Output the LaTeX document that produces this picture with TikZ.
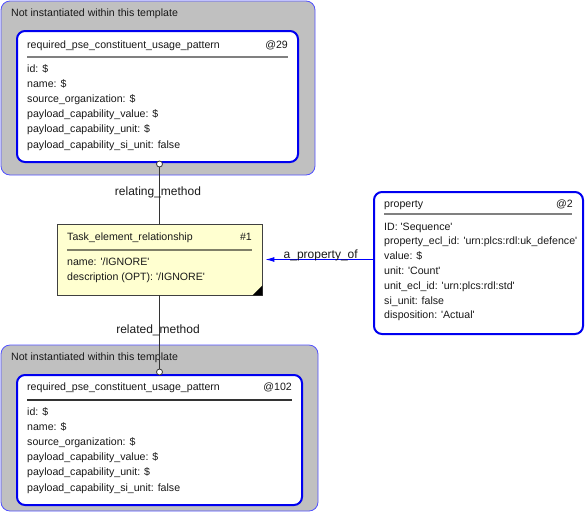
\documentclass[tikz,border=0pt]{standalone}
\usepackage{fontspec}
\newfontfamily\diafont{Liberation Sans}
\usetikzlibrary{arrows.meta}
\definecolor{grpgray}{RGB}{192,192,192}
\definecolor{grpblue}{RGB}{80,80,255}
\definecolor{boxblue}{RGB}{0,0,240}
\definecolor{noteyellow}{RGB}{255,255,208}
\definecolor{sepgray}{RGB}{128,128,128}
\definecolor{sepolive}{RGB}{128,128,104}

\begin{document}
\begin{tikzpicture}[x=1pt,y=-1pt,
	every node/.style={font=\diafont\fontsize{10.6}{12}\selectfont,inner sep=0pt,text=black!90},
	txt/.style={anchor=base west},
	num/.style={anchor=base east},
	role/.style={anchor=base,font=\diafont\fontsize{12}{14}\selectfont},
	grp/.style={draw=grpblue,fill=grpgray,rounded corners=9pt,line width=.8pt},
	inst/.style={draw=boxblue,fill=white,rounded corners=8pt,line width=2pt},
	note/.style={draw=black!75,fill=noteyellow,line width=.8pt},
	sep/.style={line width=1.5pt},
	conn/.style={draw=black!80,line width=.8pt},
	knob/.style={circle,draw=black!80,fill=white,minimum size=6pt,line width=.8pt}]
	\useasboundingbox (0,0) rectangle (585,512);

	% upper group
	\draw[grp] (1,1) rectangle (315,175);
	\node[txt] (grpA) at (11,16.5) {Not instantiated within this template};
	\node[inst,minimum width=281pt,minimum height=131pt] (pat29) at (157.5,96.5) {};
	\node[txt] (pat29t) at (27,48) {required\_pse\_constituent\_usage\_pattern};
	\node[num] (pat29n) at (288,48) {@29};
	\draw[sep,sepgray] (27,57) -- (288,57);
	\foreach \a [count=\i from 0] in {id: \$,name: \$,source\_organization: \$,
		payload\_capability\_value: \$,payload\_capability\_unit: \$,
		payload\_capability\_si\_unit: false}
		\node[txt] at (27,72.5+15.1*\i) {\a};

	% lower group
	\draw[grp] (1,345) rectangle (318,511);
	\node[txt] (grpB) at (11,360) {Not instantiated within this template};
	\node[inst,minimum width=285pt,minimum height=130pt] (pat102) at (159.5,440) {};
	\node[txt] (pat102t) at (27,390.5) {required\_pse\_constituent\_usage\_pattern};
	\node[num] (pat102n) at (292,390.5) {@102};
	\draw[sep,black!80] (27,400) -- (292,400);
	\foreach \a [count=\i from 0] in {id: \$,name: \$,source\_organization: \$,
		payload\_capability\_value: \$,payload\_capability\_unit: \$,
		payload\_capability\_si\_unit: false}
		\node[txt] at (27,415+15.2*\i) {\a};

	% task element
	\node[note,minimum width=205pt,minimum height=71pt] (task) at (159.5,259.5) {};
	\fill[black] (task.south east) -- ++(-10,0) -- ++(10,-10) -- cycle;
	\node[txt] (taskt) at (67,240) {Task\_element\_relationship};
	\node[num] (taskn) at (252,240) {\#1};
	\draw[sep,sepolive] (67,250) -- (252,250);
	\node[txt] at (67,265) {name: '/IGNORE'};
	\node[txt] at (67,280) {description (OPT): '/IGNORE'};

	% property
	\node[inst,minimum width=209pt,minimum height=142pt] (prop) at (478.5,263) {};
	\node[txt] (propt) at (384,207) {property};
	\node[num] (propn) at (573,207) {@2};
	\draw[sep,sepgray] (384,214) -- (572,214);
	\foreach \a [count=\i from 0] in {ID: 'Sequence',
		property\_ecl\_id: 'urn:plcs:rdl:uk\_defence',value: \$,unit: 'Count',
		unit\_ecl\_id: 'urn:plcs:rdl:std',si\_unit: false,disposition: 'Actual'}
		\node[txt] at (384,230+14.8*\i) {\a};

	% connectors
	\node[knob,yshift=-1pt] (knobA) at (task.north |- pat29.south) {};
	\draw[conn] (knobA) -- (task.north);
	\node[role] (relA) at (158,195) {relating\_method};
	\node[knob,yshift=2pt] (knobB) at (task.south |- pat102.north) {};
	\draw[conn] (task.south) -- (knobB);
	\node[role] (relB) at (158,333) {related\_method};
	\draw[draw=blue,line width=.9pt,-{Latex[length=9pt,width=5pt]},shorten >=3pt]
		(prop.west |- task.east) -- (task.east)
		node[role,midway,xshift=3pt,yshift=1pt] (relC) {a\_property\_of};
\end{tikzpicture}
\end{document}
